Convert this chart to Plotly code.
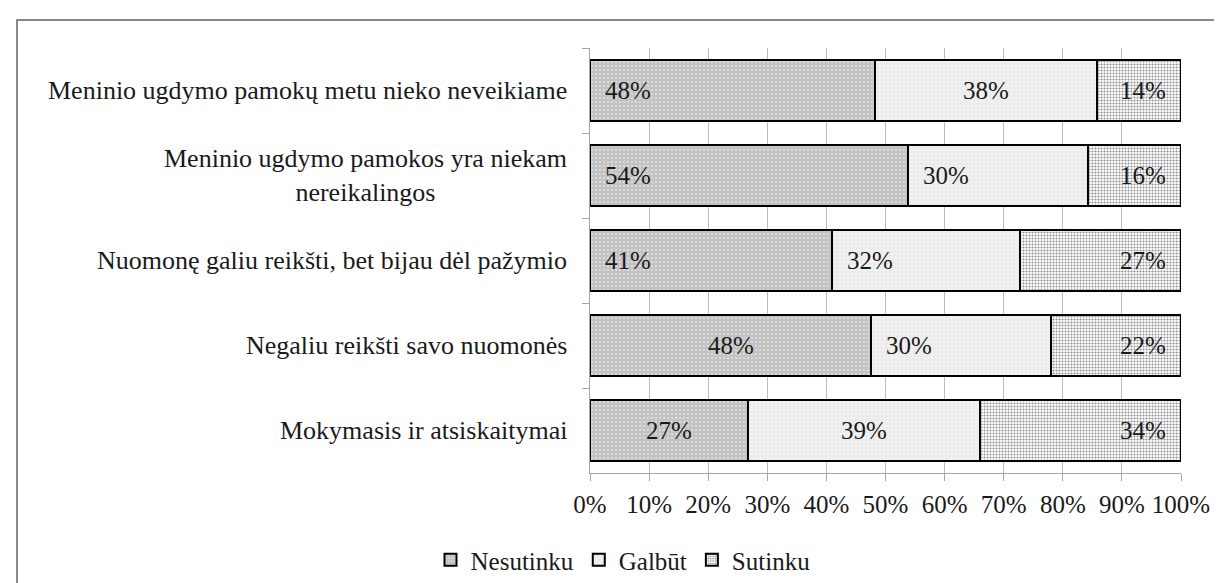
import plotly.graph_objects as go

categories = [
    "Meninio ugdymo pamokų metu nieko neveikiame",
    "Meninio ugdymo pamokos yra niekam<br>nereikalingos",
    "Nuomonę galiu reikšti, bet bijau dėl pažymio",
    "Negaliu reikšti savo nuomonės",
    "Mokymasis ir atsiskaitymai",
]
series_names = ["Nesutinku", "Galbūt", "Sutinku"]
nesutinku = [48.2, 53.8, 41.0, 47.6, 26.8]
galbut = [37.6, 30.4, 31.8, 30.4, 39.2]
sutinku = [14.2, 15.8, 27.2, 22.0, 34.0]
x_ticks = [0, 10, 20, 30, 40, 50, 60, 70, 80, 90, 100]
x_tick_labels = [f"{t}%" for t in x_ticks]

# label placement within each segment: s = near start, m = middle, e = near end
label_modes = [
    ["s", "m", "e"],
    ["s", "s", "e"],
    ["s", "s", "e"],
    ["m", "s", "e"],
    ["m", "m", "e"],
]

FONT = "Times New Roman"
TXT = "#1a1a1a"
W, H = 1222, 583
ML, MR, MT, MB = 582, 49, 40, 118
PW, PH = W - ML - MR, H - MT - MB

styles = [
    dict(bgcolor="#c3c3c3", fgcolor="#ffffff", shape=".", size=4, solidity=0.2),
    dict(bgcolor="#ececec", fgcolor="#ffffff", shape=".", size=4, solidity=0.2),
    dict(bgcolor="#ffffff", fgcolor="#222222", shape=".", size=3, solidity=0.4),
]

fig = go.Figure()
for name, vals, st in zip(series_names, [nesutinku, galbut, sutinku], styles):
    fig.add_trace(go.Bar(
        y=categories, x=vals, name=name, orientation="h",
        marker=dict(color=st["bgcolor"], line=dict(color="#000000", width=2),
                    pattern=dict(shape=st["shape"], fgcolor=st["fgcolor"],
                                 bgcolor=st["bgcolor"], size=st["size"],
                                 solidity=st["solidity"], fillmode="overlay")),
        hoverinfo="skip",
    ))

annotations = []
series = [nesutinku, galbut, sutinku]
for i, cat in enumerate(categories):
    start = 0.0
    for j in range(3):
        v = series[j][i]
        mode = label_modes[i][j]
        if mode == "s":
            x, anchor, shift = start, "left", 13
        elif mode == "m":
            x, anchor, shift = start + v / 2, "center", 0
        else:
            x, anchor, shift = start + v, "right", -13
        x = min(round(x, 6), 100)
        annotations.append(dict(
            x=x, y=cat, xref="x", yref="y", text=f"{v:.0f}%", showarrow=False,
            xanchor=anchor, xshift=shift, yanchor="middle",
            font=dict(family=FONT, size=25, color=TXT),
        ))
        start += v
    annotations.append(dict(
        x=0, y=cat, xref="paper", yref="y", text=cat, showarrow=False,
        xanchor="right", xshift=-21, yanchor="middle", align="center",
        font=dict(family=FONT, size=26, color=TXT),
    ))

def px_x(px):
    return (px - ML) / PW

def px_y(py):
    return (H - MB - py) / PH

fig.update_layout(
    width=W, height=H,
    margin=dict(l=ML, r=MR, t=MT, b=MB, pad=0, autoexpand=False),
    barmode="stack", bargap=0.28,
    paper_bgcolor="#ffffff", plot_bgcolor="#ffffff",
    font=dict(family=FONT, size=25, color=TXT),
    showlegend=True,
    legend=dict(orientation="h", x=px_x(615), y=px_y(552), xanchor="center",
                yanchor="middle", font=dict(family=FONT, size=25, color=TXT),
                itemwidth=30, traceorder="normal", bgcolor="rgba(0,0,0,0)"),
    xaxis=dict(range=[0, 100], tickmode="array", tickvals=x_ticks, ticktext=x_tick_labels,
               showgrid=True, gridcolor="#bdbdbd", gridwidth=1, zeroline=False,
               showline=True, linecolor="#a6a6a6", linewidth=1,
               ticks="outside", ticklen=7, tickcolor="#a6a6a6",
               ticklabelstandoff=2, tickfont=dict(family=FONT, size=25, color=TXT),
               fixedrange=True),
    yaxis=dict(categoryorder="array", categoryarray=categories, autorange="reversed",
               tickson="boundaries", ticks="outside", ticklen=7, tickcolor="#a6a6a6",
               showticklabels=False, showgrid=False, zeroline=False,
               showline=True, linecolor="#a6a6a6", linewidth=1, fixedrange=True),
    annotations=annotations,
    shapes=[dict(type="rect", xref="paper", yref="paper",
                 x0=px_x(9), x1=px_x(1226), y0=px_y(590), y1=px_y(12),
                 line=dict(color="#888888", width=2), fillcolor="rgba(0,0,0,0)",
                 layer="below")],
)

fig.write_html("out.html")
